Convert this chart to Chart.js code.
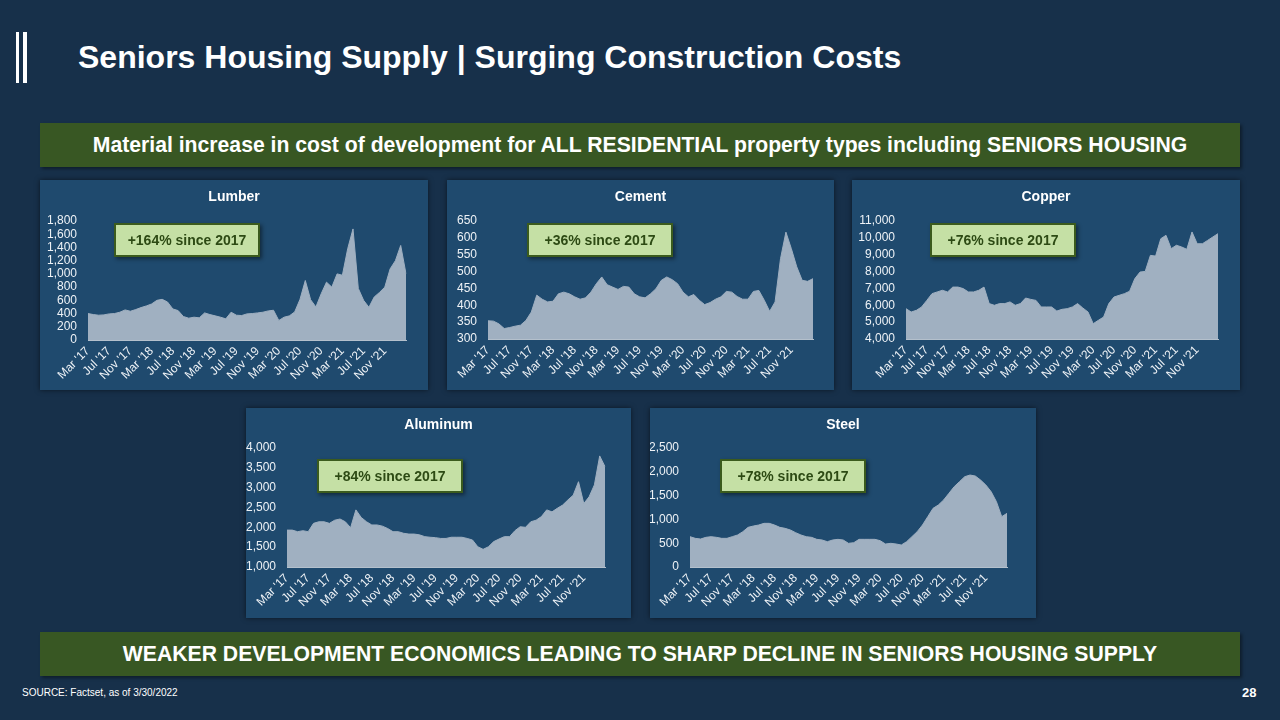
<!DOCTYPE html>
<html>
<head>
<meta charset="utf-8">
<script src="https://cdn.jsdelivr.net/npm/chart.js@4.4.0/dist/chart.umd.min.js"></script>
<style>
  body { margin: 0; width: 1280px; height: 720px; background: #17304a; font-family: "Liberation Sans", Arial, sans-serif; position: relative; overflow: hidden; }
  .logo { position: absolute; background: #fff; top: 32px; height: 51px; }
  #title { position: absolute; left: 78px; top: 39px; color: #fff; font-weight: bold; font-size: 32px; white-space: nowrap; }
  .banner { position: absolute; left: 40px; width: 1200px; height: 44px; background: #385723; color: #fff; font-weight: bold; font-size: 21.2px; line-height: 44px; text-align: center; box-shadow: 2px 2px 3px rgba(0,0,0,0.4); white-space: nowrap; }
  .panel { position: absolute; background: #1f4a6e; box-shadow: 0 0 5px rgba(0,0,0,0.55); }
  .panel canvas { position: absolute; left: 0; top: 0; }
  .ptitle { position: absolute; left: 0; right: 0; top: 8px; text-align: center; color: #fff; font-weight: bold; font-size: 14px; }
  .tag { position: absolute; box-sizing: border-box; width: 146px; height: 34px; line-height: 30px; background: #c5e0a5; border: 2px solid #3b5b1d; color: #2d4a14; font-weight: bold; font-size: 14px; text-align: center; box-shadow: 2px 2px 4px rgba(0,0,0,0.45); }
  #source { position: absolute; left: 22px; top: 687px; color: #fff; font-size: 10px; }
  #page { position: absolute; left: 1242px; top: 685px; color: #fff; font-weight: bold; font-size: 13px; }
</style>
</head>
<body>
<div class="logo" style="left:16px; width:3px;"></div>
<div class="logo" style="left:23px; width:4px;"></div>
<div id="title">Seniors Housing Supply | Surging Construction Costs</div>

<div class="banner" style="top:123px;">Material increase in cost of development for ALL RESIDENTIAL property types including SENIORS HOUSING</div>

<div class="panel" style="left:40px; top:180px; width:388px; height:210px;">
  <canvas id="lumberChart" width="388" height="210"></canvas>
  <div class="ptitle">Lumber</div>
</div>
<div class="panel" style="left:447px; top:180px; width:387px; height:210px;">
  <canvas id="cementChart" width="387" height="210"></canvas>
  <div class="ptitle">Cement</div>
</div>
<div class="panel" style="left:852px; top:180px; width:388px; height:210px;">
  <canvas id="copperChart" width="388" height="210"></canvas>
  <div class="ptitle">Copper</div>
</div>
<div class="panel" style="left:246px; top:408px; width:385px; height:210px;">
  <canvas id="aluminumChart" width="385" height="210"></canvas>
  <div class="ptitle">Aluminum</div>
</div>
<div class="panel" style="left:650px; top:408px; width:386px; height:210px;">
  <canvas id="steelChart" width="386" height="210"></canvas>
  <div class="ptitle">Steel</div>
</div>

<div class="tag" style="left:114px; top:223px;">+164% since 2017</div>
<div class="tag" style="left:527px; top:223px;">+36% since 2017</div>
<div class="tag" style="left:930px; top:223px;">+76% since 2017</div>
<div class="tag" style="left:317px; top:459px;">+84% since 2017</div>
<div class="tag" style="left:720px; top:459px;">+78% since 2017</div>

<div class="banner" style="top:632px;">WEAKER DEVELOPMENT ECONOMICS LEADING TO SHARP DECLINE IN SENIORS HOUSING SUPPLY</div>
<div id="source">SOURCE: Factset, as of 3/30/2022</div>
<div id="page">28</div>

<script>
// mensal, Mar '17 a Mar '22
const months = [
  "Mar '17", "Apr '17", "May '17", "Jun '17", "Jul '17", "Aug '17", "Sep '17", "Oct '17", "Nov '17", "Dec '17",
  "Jan '18", "Feb '18", "Mar '18", "Apr '18", "May '18", "Jun '18", "Jul '18", "Aug '18", "Sep '18", "Oct '18", "Nov '18", "Dec '18",
  "Jan '19", "Feb '19", "Mar '19", "Apr '19", "May '19", "Jun '19", "Jul '19", "Aug '19", "Sep '19", "Oct '19", "Nov '19", "Dec '19",
  "Jan '20", "Feb '20", "Mar '20", "Apr '20", "May '20", "Jun '20", "Jul '20", "Aug '20", "Sep '20", "Oct '20", "Nov '20", "Dec '20",
  "Jan '21", "Feb '21", "Mar '21", "Apr '21", "May '21", "Jun '21", "Jul '21", "Aug '21", "Sep '21", "Oct '21", "Nov '21", "Dec '21",
  "Jan '22", "Feb '22", "Mar '22"
];
const tickLabels = ["Mar '17", "Jul '17", "Nov '17", "Mar '18", "Jul '18", "Nov '18", "Mar '19", "Jul '19",
  "Nov '19", "Mar '20", "Jul '20", "Nov '20", "Mar '21", "Jul '21", "Nov '21"];

const lumber = [400, 385, 375, 380, 395, 400, 420, 455, 435, 460,
  490, 515, 545, 600, 615, 575, 470, 445, 355, 330, 345, 335,
  410, 385, 365, 345, 320, 420, 375, 370, 395, 400, 410, 420,
  440, 450, 295, 345, 365, 425, 615, 900, 610, 500, 700, 875,
  800, 1000, 980, 1380, 1680, 780, 600, 495, 650, 720, 800, 1075,
  1200, 1430, 1000];
const cement = [354, 353, 345, 331, 334, 338, 341, 355, 380, 430,
  418, 410, 412, 434, 439, 434, 425, 418, 422, 439, 464, 484,
  461, 454, 447, 456, 454, 434, 425, 422, 434, 449, 474, 484,
  476, 464, 439, 425, 432, 415, 402, 408, 418, 425, 441, 439,
  426, 418, 418, 441, 444, 415, 382, 410, 538, 617, 568, 514,
  474, 471, 479];
const copper = [5800, 5600, 5700, 5900, 6290, 6690, 6790, 6890, 6790, 7080,
  7080, 6990, 6790, 6790, 6890, 7080, 6100, 6000, 6100, 6100, 6200, 6000,
  6100, 6430, 6350, 6290, 5900, 5900, 5900, 5660, 5760, 5800, 5900, 6100,
  5840, 5600, 4910, 5110, 5300, 6100, 6490, 6590, 6690, 6830, 7580, 7970,
  8010, 8960, 8920, 9950, 10150, 9360, 9560, 9460, 9320, 10350, 9650, 9650,
  9850, 10050, 10250];
const aluminum = [1930, 1930, 1890, 1915, 1890, 2100, 2140, 2140, 2100, 2180,
  2210, 2140, 1990, 2440, 2250, 2140, 2060, 2060, 2030, 1970, 1890, 1890,
  1850, 1830, 1830, 1810, 1765, 1750, 1740, 1720, 1720, 1750, 1750, 1750,
  1720, 1680, 1510, 1445, 1510, 1640, 1705, 1765, 1765, 1915, 2015, 2000,
  2140, 2180, 2270, 2440, 2390, 2480, 2560, 2690, 2810, 3150, 2600, 2770,
  3070, 3800, 3530];
const steel = [637, 602, 588, 623, 637, 623, 602, 602, 637, 672,
  742, 833, 861, 882, 917, 917, 882, 833, 812, 777, 721, 672,
  637, 623, 581, 567, 532, 567, 581, 567, 497, 511, 581, 581,
  581, 581, 553, 483, 497, 483, 462, 532, 637, 742, 882, 1057,
  1232, 1302, 1407, 1547, 1687, 1792, 1897, 1932, 1911, 1827, 1722, 1582,
  1372, 1057, 1127];

Chart.defaults.font.family = '"Liberation Sans", Arial, sans-serif';

function drawArea(canvasId, values, yMin, yMax, yStep, box) {
  const ctx = document.getElementById(canvasId).getContext('2d');
  new Chart(ctx, {
    type: 'line',
    data: {
      labels: months,
      datasets: [{
        data: values,
        fill: 'start',
        backgroundColor: '#a0b0c1',
        borderColor: '#a0b0c1',
        borderWidth: 1,
        pointRadius: 0,
        tension: 0
      }]
    },
    options: {
      responsive: false,
      animation: false,
      events: [],
      layout: { padding: { top: box.top, right: box.right, left: 0, bottom: 0 } },
      plugins: { legend: { display: false }, tooltip: { enabled: false } },
      scales: {
        x: {
          grid: { display: false, drawTicks: false },
          border: { display: true, color: '#b4c0cc', width: 1 },
          ticks: {
            autoSkip: false, maxRotation: 45, minRotation: 45, padding: 4,
            color: '#eef2f6', font: { size: 12 },
            callback: function(v, i) { return tickLabels.includes(months[i]) ? months[i] : ''; }
          },
          afterFit: function(s) { s.height = box.bottom; }
        },
        y: {
          min: yMin, max: yMax,
          grid: { display: false, drawTicks: false },
          border: { display: false },
          ticks: {
            autoSkip: false, stepSize: yStep, padding: 11, color: '#eef2f6', font: { size: 12 },
            callback: function(v) { return v.toLocaleString('en-US'); }
          },
          afterFit: function(s) { s.width = box.left; }
        }
      }
    }
  });
}

drawArea('lumberChart', lumber, 0, 1800, 200, { left: 48, right: 22, top: 41, bottom: 50 });
drawArea('cementChart', cement, 300, 650, 50, { left: 41, right: 21, top: 41, bottom: 51 });
drawArea('copperChart', copper, 4000, 11000, 1000, { left: 54, right: 22, top: 41, bottom: 51 });
drawArea('aluminumChart', aluminum, 1000, 4000, 500, { left: 41, right: 26, top: 40, bottom: 51 });
drawArea('steelChart', steel, 0, 2500, 500, { left: 40, right: 29, top: 40, bottom: 51 });
</script>
</body>
</html>
